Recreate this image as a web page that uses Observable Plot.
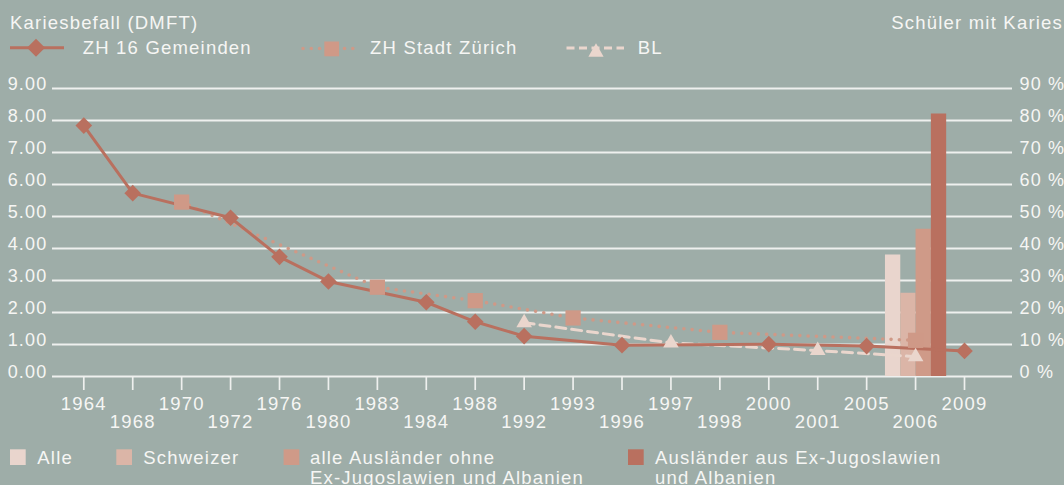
<!DOCTYPE html>
<html>
<head>
<meta charset="utf-8">
<script src="https://cdn.jsdelivr.net/npm/d3@7"></script>
<script src="https://cdn.jsdelivr.net/npm/@observablehq/plot@0.6"></script>
<style>
  html, body { margin: 0; padding: 0; background: #9eada8; }
  #wrap { width: 1064px; height: 485px; overflow: hidden; background: #9eada8; }
  #wrap svg { display: block; }
  #wrap svg text { font-family: "Liberation Sans", Arial, sans-serif; letter-spacing: 1.2px; }
</style>
</head>
<body>
<div id="wrap"></div>
<script>
// ---------- data ----------
const yearLabels = ["1964","1968","1970","1972","1976","1980","1983","1984","1988","1992","1993","1996","1997","1998","2000","2001","2005","2006","2009"];

const zh16Years  = ["1964","1968","1972","1976","1980","1984","1988","1992","1996","2000","2005","2009"];
const zh16Values = [7.84, 5.73, 4.96, 3.74, 2.97, 2.32, 1.71, 1.26, 0.98, 1.01, 0.95, 0.80];

const zurichYears  = ["1970","1983","1988","1993","1998","2006"];
const zurichValues = [5.45, 2.79, 2.37, 1.83, 1.38, 1.13];

const blYears  = ["1992","1997","2001","2006"];
const blValues = [1.68, 1.05, 0.81, 0.62];

const barYear   = "2006";
const barGroups = ["Alle", "Schweizer", "alle Ausländer ohne Ex-Jugoslawien und Albanien", "Ausländer aus Ex-Jugoslawien und Albanien"];
const barValues = [38, 26, 46, 82]; // % Schüler mit Karies

const yTicks = [0, 1, 2, 3, 4, 5, 6, 7, 8, 9];

// ---------- style ----------
const textColor = "#f6f6f4";
const gridColor = "#eef0ee";
const cZH16 = "#b9705f";
const cZurich = "#cf9987";
const cBL = "#ead6cd";
const barColors = ["#e9d5cd", "#dbb5a7", "#cf9a88", "#b9705f"];
const FONT = 18.5;

const wrap = document.getElementById("wrap");
const NS = "http://www.w3.org/2000/svg";
function el(tag, attrs, parent, txt) {
  const e = document.createElementNS(NS, tag);
  for (const k in attrs) e.setAttribute(k, attrs[k]);
  if (txt != null) e.textContent = txt;
  parent.appendChild(e);
  return e;
}

// ---------- header (titles + line legend) ----------
const head = el("svg", {width: 1064, height: 70, viewBox: "0 0 1064 70"}, wrap);
el("text", {x: 10, y: 28.5, fill: textColor, "font-size": FONT}, head, "Kariesbefall (DMFT)");
el("text", {x: 1063, y: 28.5, fill: textColor, "font-size": FONT, "text-anchor": "end"}, head, "Schüler mit Karies");
// ZH 16 Gemeinden
el("line", {x1: 10, x2: 64, y1: 47.7, y2: 47.7, stroke: cZH16, "stroke-width": 3}, head);
el("path", {d: "M36,38.7L45,47.7L36,56.7L27,47.7Z", fill: cZH16}, head);
el("text", {x: 82.7, y: 54.3, fill: textColor, "font-size": FONT}, head, "ZH 16 Gemeinden");
// ZH Stadt Zürich
el("line", {x1: 303, x2: 361, y1: 48.5, y2: 48.5, stroke: cZurich, "stroke-width": 3.6, "stroke-dasharray": "0 8.3", "stroke-linecap": "round"}, head);
el("rect", {x: 324.3, y: 41.5, width: 14.8, height: 14.8, fill: cZurich}, head);
el("text", {x: 370, y: 54.3, fill: textColor, "font-size": FONT}, head, "ZH Stadt Zürich");
// BL
el("line", {x1: 566.5, x2: 624, y1: 48, y2: 48, stroke: cBL, "stroke-width": 3, "stroke-dasharray": "8 4.5"}, head);
el("path", {d: "M596,43.3L603.6,56.7L588.4,56.7Z", fill: cBL}, head);
el("text", {x: 637.7, y: 54.3, fill: textColor, "font-size": FONT}, head, "BL");

// ---------- chart ----------
const zh16 = zh16Years.map((x, i) => ({x, y: zh16Values[i]}));
const zurich = zurichYears.map((x, i) => ({x, y: zurichValues[i]}));
const bl = blYears.map((x, i) => ({x, y: blValues[i]}));

const barW = 15.3;
const barMarks = barValues.map((v, i) =>
  Plot.ruleX([{x: barYear, y: v / 10, group: barGroups[i]}], {
    x: "x", y1: 0, y2: "y", stroke: barColors[i], strokeWidth: barW, dx: (i - 1.5) * barW
  })
);

const chart = Plot.plot({
  width: 1064,
  height: 370,
  marginTop: 18,
  marginBottom: 64,
  marginLeft: 52,
  marginRight: 52,
  style: {background: "transparent", color: textColor, fontSize: FONT + "px", fontFamily: "Liberation Sans, Arial, sans-serif", overflow: "visible"},
  x: {type: "point", domain: yearLabels, range: [83.3, 964], padding: 0, round: false},
  y: {domain: [0, 9]},
  marks: [
    Plot.ruleY(yTicks, {stroke: gridColor, strokeWidth: 1.8}),
    ...barMarks,
    Plot.line(zurich, {x: "x", y: "y", stroke: cZurich, strokeWidth: 3.6, strokeDasharray: "0 8.3", strokeLinecap: "round"}),
    Plot.line(bl, {x: "x", y: "y", stroke: cBL, strokeWidth: 3, strokeDasharray: "10 6"}),
    Plot.line(zh16, {x: "x", y: "y", stroke: cZH16, strokeWidth: 3}),
    Plot.dot(bl, {x: "x", y: "y", symbol: "triangle", r: 5.8, fill: cBL}),
    Plot.dot(zurich, {x: "x", y: "y", symbol: "square", r: 8.6, fill: cZurich}),
    Plot.dot(zh16, {x: "x", y: "y", symbol: "diamond2", r: 7.5, fill: cZH16}),
    Plot.axisX(yearLabels.filter((d, i) => i % 2 === 0), {tickSize: 14, tickPadding: 6, strokeWidth: 1.7, stroke: gridColor, fill: textColor, label: null}),
    Plot.axisX(yearLabels.filter((d, i) => i % 2 === 1), {tickSize: 14, tickPadding: 24, strokeWidth: 1.7, stroke: gridColor, fill: textColor, label: null}),
    Plot.axisY(yTicks, {anchor: "left", tickSize: 0, tickPadding: 5, tickFormat: d3.format(".2f"), dy: -4, fontSize: 18, fill: textColor, label: null}),
    Plot.axisY(yTicks, {anchor: "right", tickSize: 0, tickPadding: 7, tickFormat: d => `${d * 10} %`, dy: -4, fontSize: 18, fill: textColor, label: null})
  ]
});
wrap.appendChild(chart);

// ---------- footer (bar legend) ----------
const foot = el("svg", {width: 1064, height: 45, viewBox: "0 0 1064 45"}, wrap);
const legendItems = [
  {sx: 10, tx: 37.3, lines: ["Alle"]},
  {sx: 116.3, tx: 143.3, lines: ["Schweizer"]},
  {sx: 283.6, tx: 310, lines: ["alle Ausländer ohne", "Ex-Jugoslawien und Albanien"]},
  {sx: 628, tx: 655, lines: ["Ausländer aus Ex-Jugoslawien", "und Albanien"]}
];
legendItems.forEach((it, i) => {
  el("rect", {x: it.sx, y: 9.3, width: 15.7, height: 15.7, fill: barColors[i]}, foot);
  it.lines.forEach((t, j) => el("text", {x: it.tx, y: 23.6 + j * 20.2, fill: textColor, "font-size": FONT}, foot, t));
});
</script>
</body>
</html>
